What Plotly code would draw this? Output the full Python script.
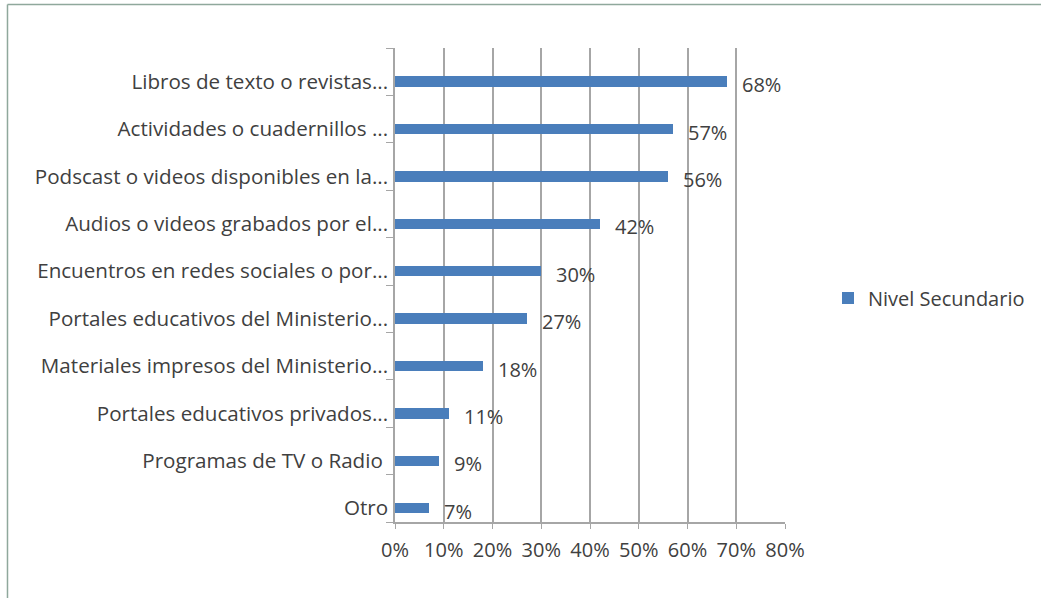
import plotly.graph_objects as go

categories = [
    "Libros de texto o revistas...",
    "Actividades o cuadernillos ...",
    "Podscast o videos disponibles en la...",
    "Audios o videos grabados por el...",
    "Encuentros en redes sociales o por...",
    "Portales educativos del Ministerio...",
    "Materiales impresos del Ministerio...",
    "Portales educativos privados...",
    "Programas de TV o Radio ",
    "Otro",
]
values = [0.68, 0.57, 0.56, 0.42, 0.30, 0.27, 0.18, 0.11, 0.09, 0.07]
series_name = "Nivel Secundario"
x_ticks = [0, 0.1, 0.2, 0.3, 0.4, 0.5, 0.6, 0.7, 0.8]

n = len(categories)
ypos = [n - 1 - i for i in range(n)]

W, H = 1041, 598
L, R, T, B = 395, 255, 48, 76
pw = W - L - R
ph = H - T - B

FONT = "Open Sans"
TXT = "#404040"
BLUE = "#4A7EBB"
GRID = "#A6A6A6"
FS = 20

fig = go.Figure()
fig.add_trace(go.Bar(
    x=values, y=ypos, orientation="h", name=series_name,
    marker=dict(color=BLUE, line=dict(width=0)), width=0.22,
    showlegend=True,
))

for v, y in zip(values, ypos):
    fig.add_annotation(x=v, y=y, text=f"{round(v*100)}%", showarrow=False,
                       xanchor="left", yanchor="middle", xshift=13, yshift=-3,
                       font=dict(family=FONT, size=FS, color=TXT))

fig.update_layout(
    width=W, height=H,
    margin=dict(l=L, r=R, t=T, b=B, pad=0),
    paper_bgcolor="white", plot_bgcolor="white",
    bargap=0,
    legend=dict(x=(828 - L) / pw, y=(522 - 298) / ph, xanchor="left", yanchor="middle",
                font=dict(family=FONT, size=FS, color=TXT), bgcolor="rgba(0,0,0,0)",
                itemwidth=30),
    xaxis=dict(range=[0, 0.8], tickvals=x_ticks, tickformat=".0%",
               showgrid=True, gridcolor=GRID, gridwidth=1.5,
               showline=True, linecolor=GRID, linewidth=1.5,
               ticks="outside", ticklen=5, tickcolor=GRID, ticklabelstandoff=4,
               tickfont=dict(family=FONT, size=FS, color=TXT), zeroline=False),
    yaxis=dict(range=[-0.29, n - 1 + 0.71], tickvals=ypos, ticktext=categories,
               showgrid=False, zeroline=False,
               showline=True, linecolor=GRID, linewidth=1.5,
               ticks="", ticklabelstandoff=1,
               minor=dict(tickvals=[i + 0.71 for i in range(-1, n)], ticks="outside",
                          ticklen=7, tickcolor=GRID, showgrid=False),
               tickfont=dict(family=FONT, size=20.6, color=TXT)),
)

# chart border (left and top edges visible in reference)
fig.add_shape(type="line", xref="paper", yref="paper",
              x0=(6.5 - L) / pw, x1=(W + 5 - L) / pw,
              y0=(H - B - 4.5) / ph, y1=(H - B - 4.5) / ph,
              line=dict(color="#8FA89C", width=1.5))
fig.add_shape(type="line", xref="paper", yref="paper",
              x0=(6.5 - L) / pw, x1=(6.5 - L) / pw,
              y0=(H - B - 4.5) / ph, y1=-(B + 5) / ph,
              line=dict(color="#8FA89C", width=1.5))

fig.write_html("out.html")
